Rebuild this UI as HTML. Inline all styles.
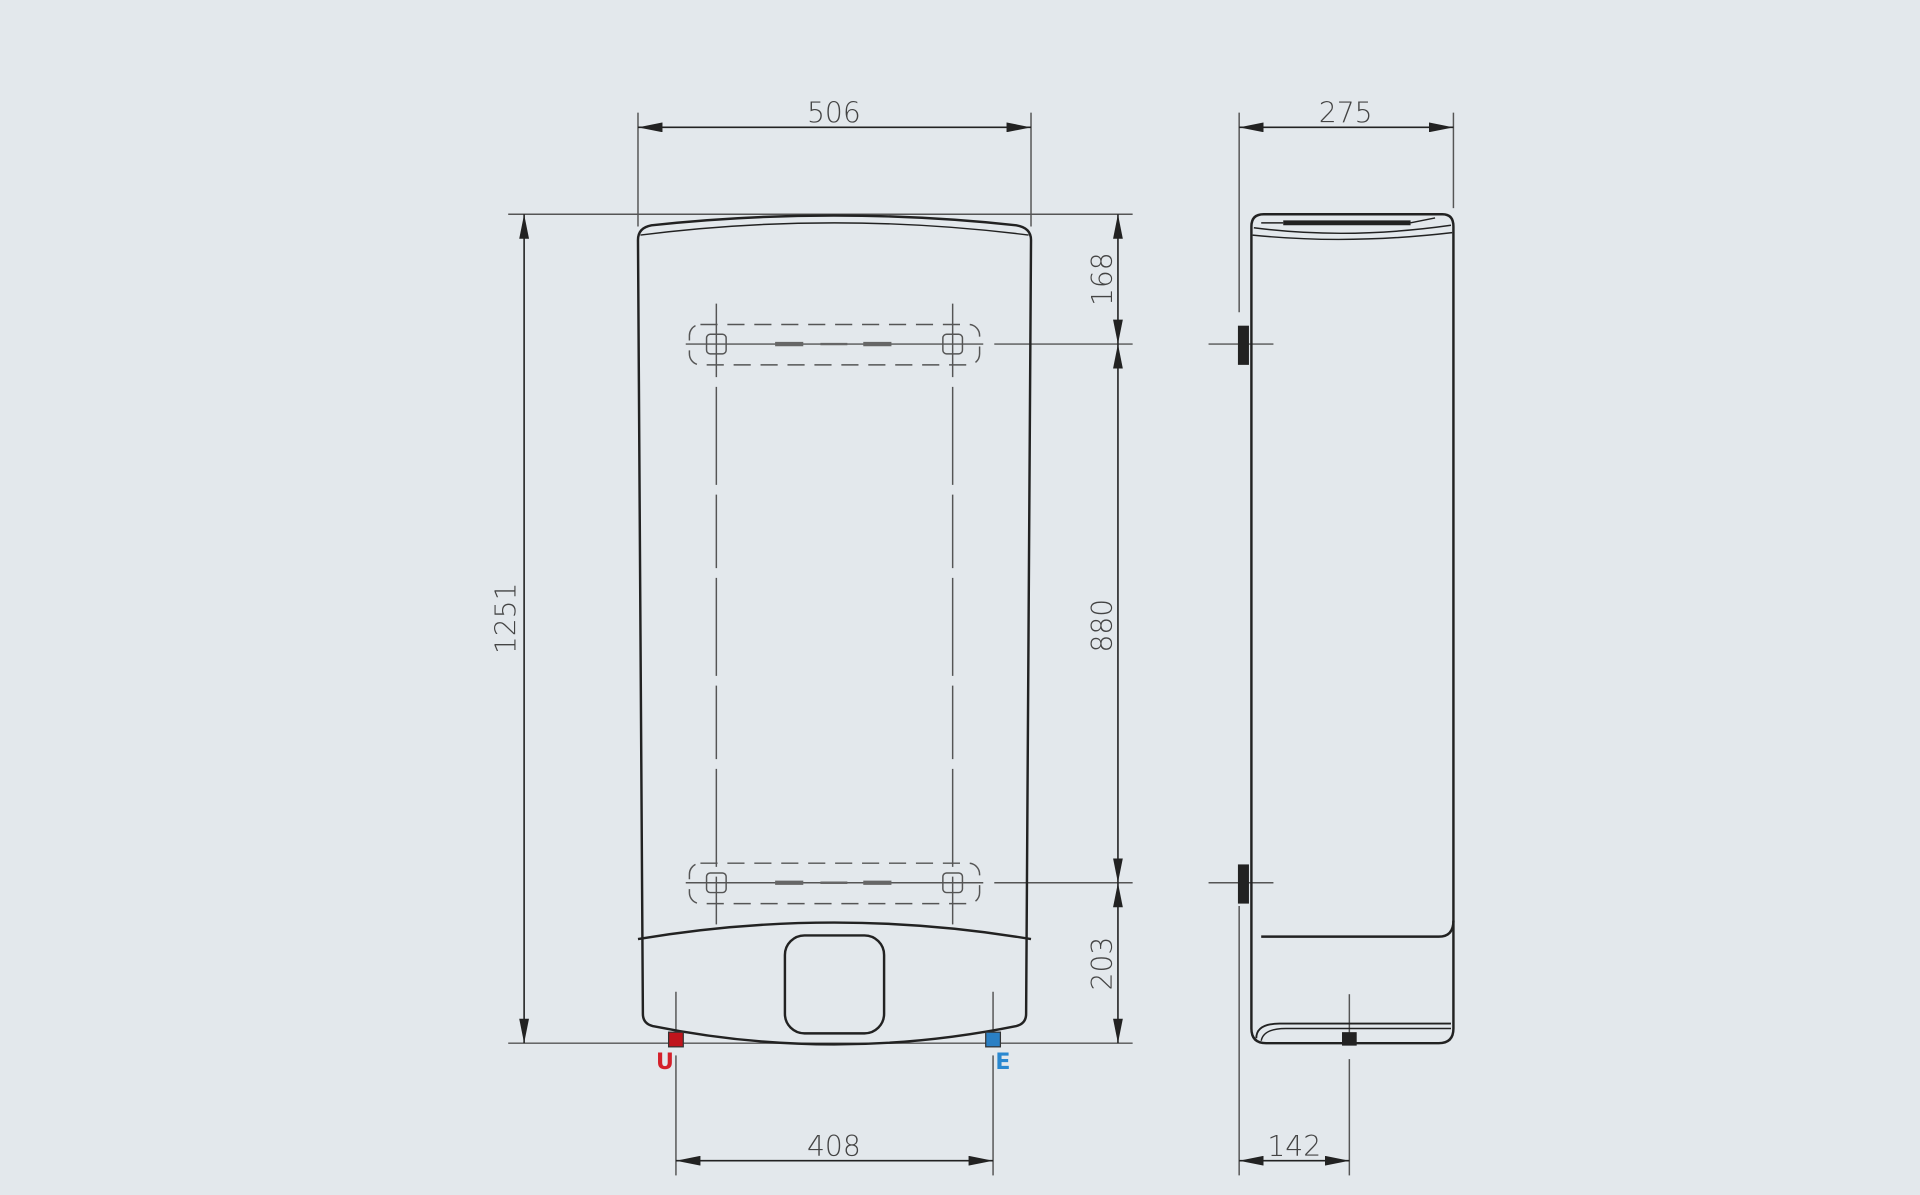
<!DOCTYPE html>
<html><head><meta charset="utf-8"><style>
html,body{margin:0;padding:0;background:#e3e8ec;width:1920px;height:1195px;overflow:hidden}
svg{display:block}
text{font-family:"DejaVu Sans","Liberation Sans",sans-serif;fill:#444;font-size:23px;font-weight:300}
</style></head><body>
<svg width="1920" height="1195" viewBox="0 0 1568 976" xmlns="http://www.w3.org/2000/svg">
<defs>
<marker id="a" viewBox="0 0 20 8" refX="20" refY="4" markerWidth="20" markerHeight="8" markerUnits="userSpaceOnUse" orient="auto-start-reverse"><path d="M0,0 L20,4 L0,8z" fill="#222"/></marker>
</defs>
<rect width="1568" height="976" fill="#e3e8ec"/>
<g stroke="#555" stroke-width="1.2" fill="none">
<!-- extension lines -->
<line x1="521" y1="92" x2="521" y2="185"/><line x1="842" y1="92" x2="842" y2="185"/>
<line x1="415" y1="175" x2="925" y2="175"/><line x1="415" y1="852" x2="925" y2="852"/>
<line x1="812" y1="281" x2="925" y2="281"/><line x1="812" y1="721" x2="925" y2="721"/>
<line x1="552" y1="810" x2="552" y2="842"/><line x1="552" y1="862" x2="552" y2="960"/>
<line x1="811" y1="810" x2="811" y2="842"/><line x1="811" y1="862" x2="811" y2="960"/>
<line x1="1012" y1="92" x2="1012" y2="255"/><line x1="1187" y1="92" x2="1187" y2="170"/>
<line x1="1012" y1="740" x2="1012" y2="960"/>
<line x1="1102" y1="812" x2="1102" y2="845"/><line x1="1102" y1="865" x2="1102" y2="960"/>
<line x1="987" y1="281" x2="1040" y2="281"/><line x1="987" y1="721" x2="1040" y2="721"/>
</g>
<g stroke="#222" stroke-width="1.3" fill="none" marker-start="url(#a)" marker-end="url(#a)">
<line x1="521" y1="104" x2="842" y2="104"/>
<line x1="1012" y1="104" x2="1187" y2="104"/>
<line x1="428" y1="175" x2="428" y2="852"/>
<line x1="913" y1="175" x2="913" y2="281"/>
<line x1="913" y1="281" x2="913" y2="721"/>
<line x1="913" y1="721" x2="913" y2="852"/>
<line x1="552" y1="948" x2="811" y2="948"/>
<line x1="1012" y1="948" x2="1102" y2="948"/>
</g>
<text x="681" y="100" text-anchor="middle">506</text>
<text x="1099" y="100" text-anchor="middle">275</text>
<text x="681" y="944" text-anchor="middle">408</text>
<text x="1057" y="944" text-anchor="middle">142</text>
<text transform="translate(421,505) rotate(-90)" text-anchor="middle">1251</text>
<text transform="translate(908,228) rotate(-90)" text-anchor="middle">168</text>
<text transform="translate(908,511) rotate(-90)" text-anchor="middle">880</text>
<text transform="translate(908,787) rotate(-90)" text-anchor="middle">203</text>

<!-- front body -->
<g stroke="#222" stroke-width="2" fill="none">
<path d="M521,196 Q521,186 532,184 Q681,168 830,184 Q842,186 842,196 L838,828 Q838,836 830,838 Q681,868 533,838 Q525,836 525,828 Z"/>
<path d="M523,192 Q681,172 840,192" stroke-width="1.2"/>
<path d="M521,767 Q681,740 842,767"/>
<rect x="641" y="764" width="81" height="80" rx="16"/>
</g>
<!-- brackets -->
<g stroke="#555" stroke-width="1.2" fill="none">
<rect x="563" y="265" width="237" height="33" rx="9" stroke-dasharray="14,8"/>
<rect x="563" y="705" width="237" height="33" rx="9" stroke-dasharray="14,8"/>
<rect x="577" y="273" width="16" height="16" rx="3"/><rect x="770" y="273" width="16" height="16" rx="3"/>
<rect x="577" y="713" width="16" height="16" rx="3"/><rect x="770" y="713" width="16" height="16" rx="3"/>
<line x1="560" y1="281" x2="803" y2="281"/><line x1="560" y1="721" x2="803" y2="721"/>
<line x1="585" y1="248" x2="585" y2="755" stroke-dasharray="60,8,80,8"/>
<line x1="778" y1="248" x2="778" y2="755" stroke-dasharray="60,8,80,8"/>
</g>
<g stroke="#666" stroke-width="3.5">
<line x1="633" y1="281" x2="656" y2="281"/><line x1="705" y1="281" x2="728" y2="281"/>
<line x1="633" y1="721" x2="656" y2="721"/><line x1="705" y1="721" x2="728" y2="721"/>
<line x1="670" y1="281" x2="692" y2="281" stroke-width="2"/><line x1="670" y1="721" x2="692" y2="721" stroke-width="2"/>
</g>
<!-- connectors -->
<rect x="546" y="843" width="12" height="12" fill="#c0141c" stroke="#333"/>
<rect x="805" y="843" width="12" height="12" fill="#2a7fc4" stroke="#333"/>
<text x="543" y="873" text-anchor="middle" style="fill:#d4202a;font-weight:bold;font-size:18px">U</text>
<text x="819" y="873" text-anchor="middle" style="fill:#2a88d0;font-weight:bold;font-size:18px">E</text>

<!-- side view -->
<g stroke="#222" stroke-width="2" fill="none">
<path d="M1022,185 Q1022,175 1032,175 L1178,175 Q1187,175 1187,185 L1187,752 Q1187,765 1175,765 L1030,765"/>
<path d="M1022,185 L1022,840 Q1022,852 1034,852 L1175,852 Q1187,852 1187,840 L1187,752"/>
<path d="M1023,192 Q1100,200 1186,190" stroke-width="1.2"/>
<path d="M1024,186 Q1100,196 1185,184" stroke-width="1.2"/>
<path d="M1030,182 L1048,182 M1152,182 L1172,178" stroke-width="1.2"/>
<path d="M1048,182 L1152,182" stroke-width="4"/>
<path d="M1026,848 Q1026,836 1045,836 L1185,836" stroke-width="1.5"/>
<path d="M1030,850 Q1032,840 1050,840 L1185,840" stroke-width="1.2"/>
</g>
<rect x="1011" y="266" width="9" height="32" fill="#222"/>
<rect x="1011" y="706" width="9" height="32" fill="#222"/>
<rect x="1096" y="843" width="12" height="11" fill="#222"/>
</svg>
</body></html>
